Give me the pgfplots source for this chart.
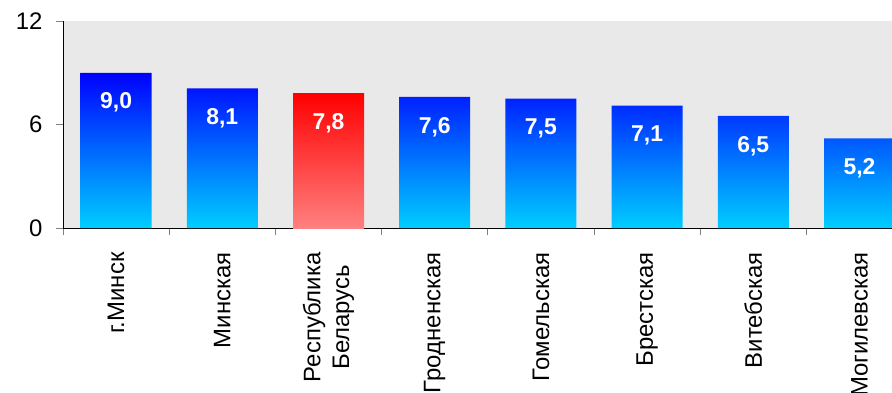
\documentclass[border=0pt]{standalone}
\usepackage{fontspec}
\setmainfont{Liberation Sans}
\usepackage{pgfplots}
\pgfplotsset{compat=1.18}

\definecolor{plotbg}{RGB}{233,233,233}
\definecolor{bluetop}{RGB}{0,0,255}
\definecolor{bluebot}{RGB}{0,206,255}
\definecolor{redtop}{RGB}{255,0,0}
\definecolor{redbot}{RGB}{255,128,128}
\definecolor{tickgray}{RGB}{128,128,128}

\begin{document}
\begin{tikzpicture}
\begin{axis}[
    at={(0,0)}, anchor=south west,
    scale only axis,
    width=829bp, height=207bp,
    xmin=-0.5, xmax=7.306,
    ymin=0, ymax=12,
    axis x line*=bottom,
    axis y line*=left,
    axis line style={black, line width=0.8pt},
    axis background/.style={fill=plotbg},
    ybar, bar width=71bp, bar shift=0pt,
    xtick={0,...,7},
    xticklabels={г.Минск, Минская, {Республика\\Беларусь}, Гродненская,
                 Гомельская, Брестская, Витебская, Могилевская},
    xticklabel style={rotate=90, anchor=east, align=center,
                      font=\fontsize{24}{29}\selectfont},
    xticklabel shift=14bp,
    minor xtick={-0.5,0.5,...,7.5},
    major x tick style={draw=none},
    ytick={0,6,12},
    yticklabel style={font=\fontsize{24}{24}\selectfont},
    yticklabel shift=10bp,
    /pgf/number format/assume math mode=true,
    tick align=outside,
    major tick length=7bp, minor tick length=7bp,
    every tick/.style={tickgray, line width=0.8pt},
    nodes near coords={\pgfmathprintnumber[fixed,fixed zerofill,precision=1,use comma]{\pgfplotspointmeta}},
    every node near coord/.append style={anchor=center, yshift=-30bp,
        text=white, font=\bfseries\fontsize{23}{24}\selectfont},
]

% regions
\addplot[draw=none, top color=bluetop, bottom color=bluebot]
    coordinates {(0,9.0) (1,8.1) (3,7.6) (4,7.5) (5,7.1) (6,6.5) (7,5.2)};

% country total
\addplot[draw=none, top color=redtop, bottom color=redbot]
    coordinates {(2,7.8)};

\end{axis}
\pgfresetboundingbox
\path[use as bounding box] (-63bp,-165bp) rectangle (829bp,228bp);
\end{tikzpicture}
\end{document}
